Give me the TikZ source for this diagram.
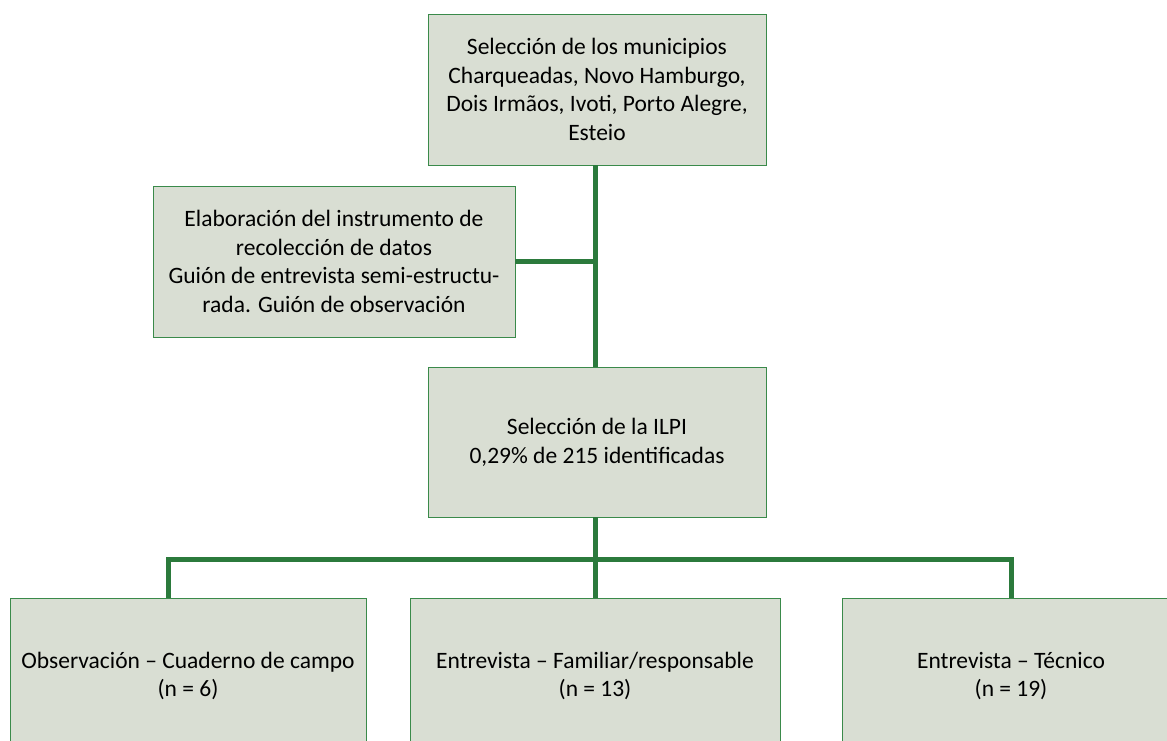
\documentclass[tikz,border=0pt]{standalone}
\usepackage{fontspec}
\setmainfont{Carlito}
\definecolor{boxfill}{HTML}{D9DED3}
\definecolor{boxline}{HTML}{3A8A4A}
\definecolor{conn}{HTML}{2B7A3C}
\begin{document}
\begin{tikzpicture}[x=1pt,y=-1pt,
  stagebox/.style={draw=boxline,line width=0.9pt,fill=boxfill,rectangle,align=center,
    inner sep=0pt,font=\fontsize{23.5}{28.8}\selectfont},
  link/.style={draw=conn,line width=5pt}]
\useasboundingbox (0,0) rectangle (1167,741);
\clip (0,0) rectangle (1167,741);
\node[stagebox,minimum width=338pt,minimum height=151pt] (top) at (597,89.5)
  {Selección de los municipios\\Charqueadas, Novo Hamburgo,\\Dois Irmãos, Ivoti, Porto Alegre,\\Esteio};
\node[stagebox,minimum width=362pt,minimum height=151pt] (elab) at (334,261.5)
  {Elaboración del instrumento de\\recolección de datos\\Guión de entrevista semi-estructu-\\rada. Guión de observación};
\node[stagebox,minimum width=338pt,minimum height=150pt] (mid) at (597,442)
  {Selección de la ILPI\\0,29\% de 215 identificadas};
\node[stagebox,minimum width=356pt,minimum height=156pt] (obs) at (188,676)
  {Observación – Cuaderno de campo\\(n = 6)};
\node[stagebox,minimum width=370pt,minimum height=156pt] (fam) at (595,676)
  {Entrevista – Familiar/responsable\\(n = 13)};
\node[stagebox,minimum width=338pt,minimum height=156pt] (tec) at (1011,676)
  {Entrevista – Técnico\\(n = 19)};
\coordinate (bus) at (595,559);
\coordinate (junc) at (595,261.5);
\draw[link] (top.south -| bus) -- (mid.north -| bus);
\draw[link] (elab.east) -- (junc);
\draw[link] (mid.south -| bus) -- (bus);
\draw[link] (obs.north -| 168,0) |- (bus) -| (tec.north);
\draw[link] (bus) -- (fam.north);
\end{tikzpicture}
\end{document}
